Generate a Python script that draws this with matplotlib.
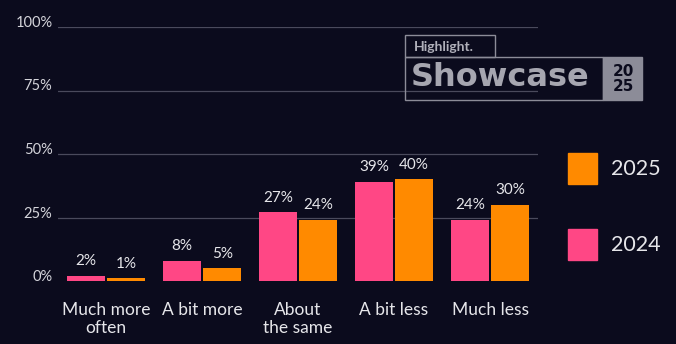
import matplotlib.pyplot as plt
from matplotlib.patches import Rectangle
import numpy as np

categories = ['Much more\noften', 'A bit more', 'About\nthe same', 'A bit less', 'Much less']
vals_2024 = [2, 8, 27, 39, 24]
vals_2025 = [1, 5, 24, 40, 30]
yticks = [0, 25, 50, 75, 100]

bg = '#0b0b1d'
pink = '#ff4785'
orange = '#ff8a00'
txt = '#e6e6ea'

plt.rcParams['font.family'] = ['Lato', 'DejaVu Sans']

W, H = 676, 344
fig = plt.figure(figsize=(W / 100, H / 100), dpi=100, facecolor=bg)
ax = fig.add_axes([58 / W, (H - 281) / H, 480 / W, 254 / H], facecolor=bg)

x = np.arange(len(categories))
bw = 0.39
off = 0.21
ax.bar(x - off, vals_2024, bw, color=pink, zorder=3)
ax.bar(x + off, vals_2025, bw, color=orange, zorder=3)

for i in range(len(categories)):
    ax.text(x[i] - off, vals_2024[i] + 3, f'{vals_2024[i]}%', ha='center', va='bottom',
            color=txt, fontsize=11)
    ax.text(x[i] + off, vals_2025[i] + 3, f'{vals_2025[i]}%', ha='center', va='bottom',
            color=txt, fontsize=11)

ax.set_xlim(-0.5, 4.5)
ax.set_ylim(0, 100)
ax.set_yticks(yticks)
ax.set_yticklabels([f'{t}%' for t in yticks])
ax.set_xticks(x)
ax.set_xticklabels(categories, linespacing=1.15)
ax.tick_params(axis='y', length=0, pad=4, colors='#d4d4da', labelsize=10.5)
ax.tick_params(axis='x', length=0, pad=15, colors=txt, labelsize=12.5)
for t in ax.get_yticklabels():
    t.set_verticalalignment('baseline')
ax.grid(axis='y', color='#4a4a5c', linewidth=0.9, zorder=0)
ax.yaxis.get_gridlines()[0].set_visible(False)
for s in ax.spines.values():
    s.set_visible(False)

# legend
for yy, col, lab in [(153, orange, '2025'), (229, pink, '2024')]:
    fig.patches.append(Rectangle((568 / W, 1 - (yy + 31) / H), 29 / W, 31 / H,
                                 transform=fig.transFigure, color=col))
    fig.text(611 / W, 1 - (yy + 16) / H, lab, color=txt, fontsize=15.5, va='center')

# logo
logo = '#8c8c98'
fig.patches.append(Rectangle((405 / W, 1 - 57 / H), 90 / W, 22 / H, transform=fig.transFigure,
                             fill=False, edgecolor=logo, linewidth=1))
fig.patches.append(Rectangle((405 / W, 1 - 100 / H), 198 / W, 43 / H, transform=fig.transFigure,
                             fill=False, edgecolor=logo, linewidth=1))
fig.patches.append(Rectangle((603 / W, 1 - 100 / H), 39 / W, 43 / H, transform=fig.transFigure,
                             color=logo))
fig.text(414 / W, 1 - 47 / H, 'Highlight.', color='#b0b0ba', fontsize=10, fontweight='bold',
         va='center')
fig.text(411 / W, 1 - 78 / H, 'Showcase', color='#a6a6b0', fontsize=23, fontweight='bold',
         va='center', family='DejaVu Sans')
fig.text(623 / W, 1 - 79 / H, '20\n25', color=bg, fontsize=11, fontweight='bold',
         ha='center', va='center', linespacing=0.95, family='DejaVu Sans')

fig.savefig('out.png', dpi=100, facecolor=bg)
